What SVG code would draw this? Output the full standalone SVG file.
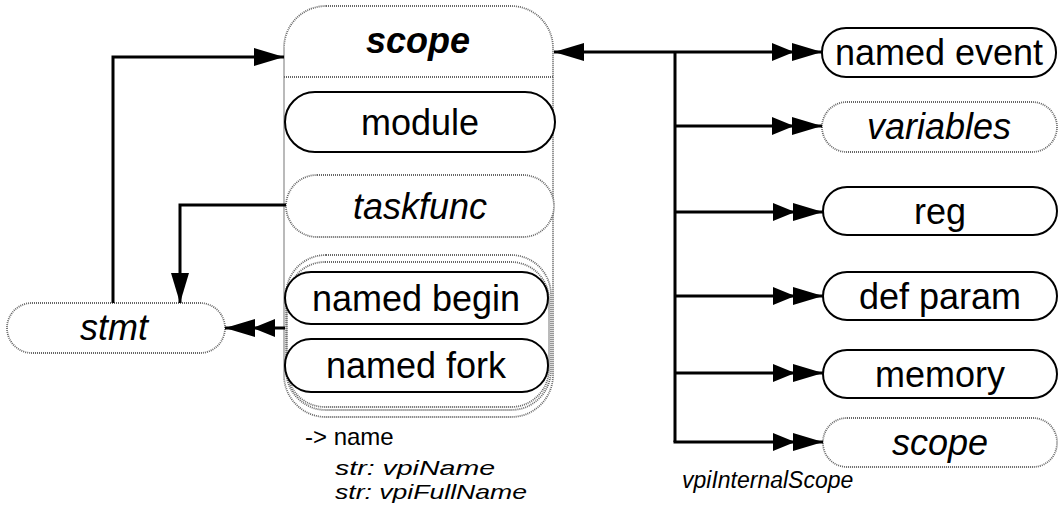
<svg xmlns="http://www.w3.org/2000/svg" width="1059" height="513" viewBox="0 0 1059 513">
<style>
.solid{fill:#fff;stroke:#000;stroke-width:2}
.dot{fill:#fff;stroke:#666;stroke-width:1.8;stroke-dasharray:1 1}
.lbl{font-family:"Liberation Sans",Arial,sans-serif;font-size:36px;text-anchor:middle;fill:#000}
.it{font-style:italic}
.small{font-family:"Liberation Sans",Arial,sans-serif;fill:#000}
.conn{fill:none;stroke:#000;stroke-width:3}
</style>
<defs>
<marker id="a1" markerUnits="userSpaceOnUse" markerWidth="30" markerHeight="18" refX="30" refY="9" orient="auto">
<path d="M0,0 L30,9 L0,18 z" fill="#000"/>
</marker>
<marker id="a2" markerUnits="userSpaceOnUse" markerWidth="50" markerHeight="18" refX="50" refY="9" orient="auto">
<path d="M0,0 L22,9 L0,18 z M20,0 L50,9 L20,18 z" fill="#000"/>
</marker>
</defs>
<g id="scope-main">
<rect class="dot" x="284" y="6" width="269" height="411" rx="42"/>
<line x1="284" y1="77" x2="553" y2="77" stroke="#666" stroke-width="1.8" stroke-dasharray="1 1"/>
<text class="lbl it" x="418" y="53" font-weight="bold">scope</text>
</g>
<g id="module">
<rect class="solid" x="285" y="92" width="270" height="60" rx="30"/>
<text class="lbl" x="420" y="135">module</text>
</g>
<g id="taskfunc">
<rect class="dot" x="286" y="175" width="268" height="62" rx="31"/>
<text class="lbl it" x="420" y="219">taskfunc</text>
</g>
<g id="named-group">
<rect class="dot" x="286" y="255" width="265" height="155" rx="40"/>
<rect class="dot" x="287" y="262" width="262" height="145" rx="38"/>
</g>
<g id="named-begin">
<rect class="solid" x="285" y="272" width="263" height="52" rx="26"/>
<text class="lbl" x="416" y="311">named begin</text>
</g>
<g id="named-fork">
<rect class="solid" x="285" y="339" width="263" height="53" rx="26"/>
<text class="lbl" x="416" y="378">named fork</text>
</g>
<g id="stmt">
<rect class="dot" x="7" y="303" width="218" height="50" rx="25"/>
<text class="lbl it" x="114" y="340">stmt</text>
</g>
<g id="named-event">
<rect class="solid" x="822" y="28" width="234" height="49" rx="24"/>
<text class="lbl" x="939" y="65">named event</text>
</g>
<g id="variables">
<rect class="dot" x="822" y="102" width="235" height="50" rx="25"/>
<text class="lbl it" x="939" y="139">variables</text>
</g>
<g id="reg">
<rect class="solid" x="823" y="187" width="234" height="48" rx="24"/>
<text class="lbl" x="940" y="224">reg</text>
</g>
<g id="def-param">
<rect class="solid" x="823" y="272" width="234" height="48" rx="24"/>
<text class="lbl" x="940" y="309">def param</text>
</g>
<g id="memory">
<rect class="solid" x="823" y="350" width="234" height="48" rx="24"/>
<text class="lbl" x="940" y="387">memory</text>
</g>
<g id="scope-int">
<rect class="dot" x="823" y="418" width="234" height="49" rx="24"/>
<text class="lbl it" x="940" y="455">scope</text>
</g>
<g id="connectors">
<path class="conn" d="M113,303 V57 H284" marker-end="url(#a1)"/>
<path class="conn" d="M286,205 H180 V303" marker-end="url(#a1)"/>
<path class="conn" d="M285,328 H225" marker-end="url(#a2)"/>
<path class="conn" d="M675,52 H554" marker-end="url(#a1)"/>
<path class="conn" d="M675,52 H822" marker-end="url(#a2)"/>
<path class="conn" d="M675,52 V442"/>
<path class="conn" d="M675,126 H822" marker-end="url(#a2)"/>
<path class="conn" d="M675,212 H823" marker-end="url(#a2)"/>
<path class="conn" d="M675,296 H823" marker-end="url(#a2)"/>
<path class="conn" d="M675,373 H823" marker-end="url(#a2)"/>
<path class="conn" d="M673.5,442 H823" marker-end="url(#a2)"/>
</g>
<g id="labels">
<text class="small" x="305" y="445" font-size="24">-&gt; name</text>
<text class="small it" x="335" y="475" font-size="21" textLength="160" lengthAdjust="spacingAndGlyphs">str: vpiName</text>
<text class="small it" x="335" y="499" font-size="21" textLength="192" lengthAdjust="spacingAndGlyphs">str: vpiFullName</text>
<text class="small it" x="682" y="488" font-size="23">vpiInternalScope</text>
</g>
</svg>
